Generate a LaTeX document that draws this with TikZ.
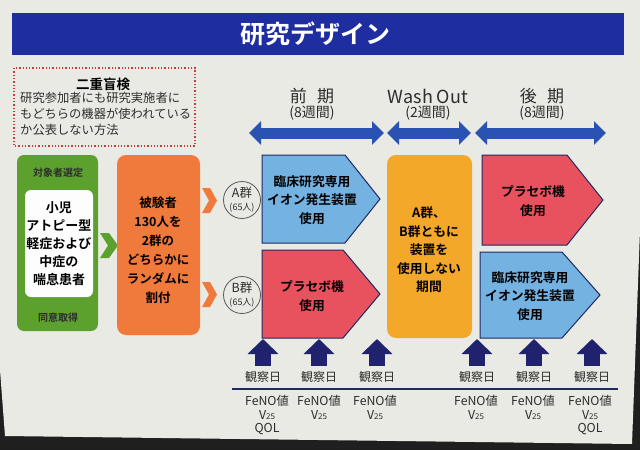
\documentclass[tikz,border=0pt]{standalone}
\usepackage{fontspec}
\setmainfont{Noto Sans CJK JP}[BoldFont={Noto Sans CJK JP Bold}]
\usetikzlibrary{arrows.meta,calc,positioning}
\definecolor{titleblue}{RGB}{30,45,160}
\definecolor{arrowblue}{RGB}{42,82,178}
\definecolor{obsnavy}{RGB}{32,34,110}
\definecolor{selgreen}{RGB}{92,160,46}
\definecolor{randorange}{RGB}{240,122,60}
\definecolor{washyellow}{RGB}{244,168,42}
\definecolor{ionblue}{RGB}{116,178,225}
\definecolor{placred}{RGB}{232,82,94}
\definecolor{edgenavy}{RGB}{30,40,100}
\definecolor{paper}{RGB}{234,234,228}
\definecolor{ink}{RGB}{45,45,45}
\definecolor{dotred}{RGB}{200,60,60}

\begin{document}
\begin{tikzpicture}[x=1pt,y=-1pt,
    every node/.style={text=ink,inner sep=0pt},
    boxtxt/.style={font=\fontsize{12.8}{18.5}\selectfont\bfseries,align=center,text=black},
    period/.style={arrowblue,line width=11pt,{Triangle[length=12pt,width=23pt]}-{Triangle[length=12pt,width=23pt]}},
    obsarrow/.style={obsnavy,line width=16pt,-{Triangle[length=15pt,width=30pt]}},
    signalbox/.style={draw=edgenavy,line width=1pt,line join=miter},
    grpcircle/.style={circle,draw=black!65,fill=paper,minimum size=37pt,align=center,line width=.8pt},
    meas/.style={font=\fontsize{12.3}{13.5}\selectfont,anchor=north,align=center},
    chevron/.style={randorange}]
  \useasboundingbox (0,0) rectangle (640,450);
  % paper and dark edge of the photo
  \fill[black!88] (0,0) rectangle (640,450);
  \fill[paper] (0,0) -- (640,0) -- (640,230) -- (632,444) -- (5,436) -- (0,370) -- cycle;
  % title
  \fill[titleblue] (12,13) rectangle (624,55);
  \node[font=\fontsize{25}{25}\selectfont\bfseries,text=white] (title) at (315,34) {研究デザイン};
  % double blind note
  \draw[dotred,dotted,line width=1.3pt] (14,68) rectangle (195,146);
  \node[font=\fontsize{13.5}{13.5}\selectfont\bfseries,text=black] (blindhead) at (103,84) {二重盲検};
  \node[font=\fontsize{12.3}{16}\selectfont,anchor=north west,align=left] (blindtxt) at (20,92)
    {研究参加者にも研究実施者に\\もどちらの機器が使われている\\か公表しない方法};
  % periods
  \node[font=\fontsize{17}{17}\selectfont] (first) at (312,96) {前\hspace{.6em}期};
  \node[font=\fontsize{18}{18}\selectfont] (wash) at (428,96) {Wash Out};
  \node[font=\fontsize{17}{17}\selectfont] (second) at (542,96) {後\hspace{.6em}期};
  \foreach \x/\w/\n in {312/first/8,428/wash/2,542/second/8}
    \node[font=\fontsize{14}{14}\selectfont] (\w wk) at (\x,113) {(\n 週間)};
  \foreach \a/\b in {249/384,387/471,475/606}
    \draw[period] (\a,133) -- (\b,133);
  % selection
  \fill[selgreen,rounded corners=7pt] (17,155) rectangle (98,331);
  \fill[white!92!paper,rounded corners=6pt] (25,190) rectangle (93,297);
  \node[font=\fontsize{10}{10}\selectfont\bfseries] (selhead) at (58,173) {対象者選定};
  \node[boxtxt,font=\fontsize{13}{18}\selectfont\bfseries] (patients) at (59,244) {小児\\アトピー型\\軽症および\\中症の\\喘息患者};
  \node[font=\fontsize{10}{10}\selectfont\bfseries] (consent) at (58,318) {同意取得};
  \fill[selgreen] (100,233) -- (109,233) -- (118,245.5) -- (109,258) -- (100,258) -- (108,245.5) -- cycle;
  % randomisation
  \fill[randorange,rounded corners=9pt] (117,155) rectangle (200,335);
  \node[boxtxt,font=\fontsize{12.5}{19}\selectfont\bfseries] (random) at (158,250) {被験者\\130人を\\2群の\\どちらかに\\ランダムに\\割付};
  \foreach \y in {188,282}
    \fill[chevron] (202,\y) -- (210,\y) -- (217,\y+12.5) -- (210,\y+25) -- (202,\y+25) -- (209,\y+12.5) -- cycle;
  \node[grpcircle] (grpA) at (242,200) {\fontsize{12.5}{12.5}\selectfont A群\\[1pt]\fontsize{9}{9}\selectfont(65人)};
  \node[grpcircle] (grpB) at (242,295) {\fontsize{12.5}{12.5}\selectfont B群\\[1pt]\fontsize{9}{9}\selectfont(65人)};
  % first period
  \filldraw[signalbox,fill=ionblue] (262,155) -- (345,155) -- (380,199) -- (345,243) -- (262,243) -- cycle;
  \node[boxtxt] (ionA) at (312,200) {臨床研究専用\\イオン発生装置\\使用};
  \filldraw[signalbox,fill=placred] (262,250) -- (343,250) -- (380,294) -- (343,338) -- (262,338) -- cycle;
  \node[boxtxt] (placA) at (312,296) {プラセボ機\\使用};
  % wash out
  \fill[washyellow,rounded corners=9pt] (387,155) rectangle (472,338);
  \node[boxtxt] (washtxt) at (429,250) {A群、\\B群ともに\\装置を\\使用しない\\期間};
  % second period
  \filldraw[signalbox,fill=placred] (482,155) -- (567,155) -- (603,200) -- (567,245) -- (482,245) -- cycle;
  \node[boxtxt] (placB) at (533,201) {プラセボ機\\使用};
  \filldraw[signalbox,fill=ionblue] (480,252) -- (562,252) -- (600,295) -- (562,338) -- (480,338) -- cycle;
  \node[boxtxt] (ionB) at (530,296) {臨床研究専用\\イオン発生装置\\使用};
  % observation days
  \foreach \x [count=\i] in {263,319,377,477,534,592} {
    \node[font=\fontsize{12}{12}\selectfont] (obs\i) at (\x,377) {観察日};
    \draw[obsarrow] (\x,366) -- (\x,339);
  }
  \draw[edgenavy,line width=1.2pt] (232,389) -- (618,389);
  \foreach \x [count=\i] in {267,590}
    \node[meas] (qol\i) at (\x,395) {FeNO値\\V{\fontsize{8}{8}\selectfont 25}\\QOL};
  \foreach \x [count=\i] in {319,375,476,533}
    \node[meas] (meas\i) at (\x,395) {FeNO値\\V{\fontsize{8}{8}\selectfont 25}};
\end{tikzpicture}
\end{document}
